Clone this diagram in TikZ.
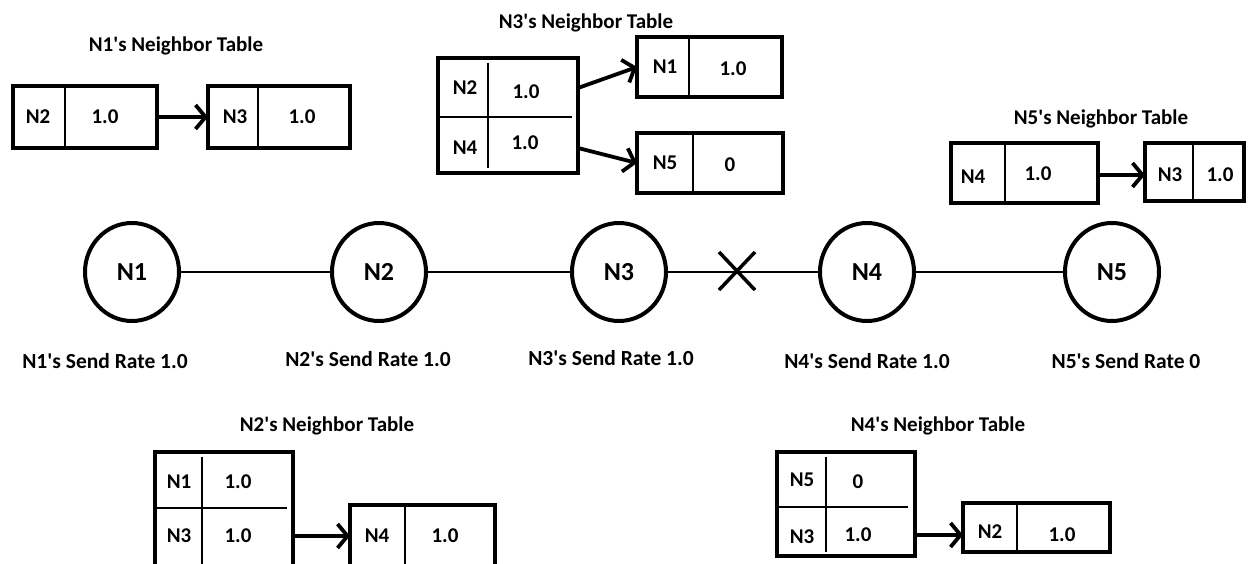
\documentclass[tikz,border=0pt]{standalone}
\usepackage{fontspec}
\setmainfont{Carlito}
\usetikzlibrary{arrows.meta,shapes.geometric}
\newcommand{\apos}{\textquotesingle}
\begin{document}
\begin{tikzpicture}[x=1pt,y=-1pt,
  box/.style={draw, line width=3.5pt, rectangle, inner sep=0pt, outer sep=0pt},
  div/.style={line width=1.8pt},
  tx/.style={font=\fontsize{21}{25}\selectfont\bfseries, text height=13.5pt, text depth=0pt, inner sep=0pt},
  ttl/.style={font=\fontsize{21}{25}\selectfont\bfseries, text height=13.5pt, text depth=0pt, inner sep=0pt},
  rate/.style={font=\fontsize{21.5}{25}\selectfont\bfseries, text height=13.8pt, text depth=0pt, inner sep=0pt},
  nd/.style={draw, ellipse, line width=4pt, minimum width=94pt, minimum height=98pt, inner sep=0pt, outer sep=0pt, font=\fontsize{26}{30}\selectfont\bfseries},
  link/.style={line width=2pt},
  xmark/.style={line width=3.5pt},
  arr/.style={line width=3.8pt, -{Straight Barb[length=10pt,width=24pt]}},
]
\fill[white] (0,0) rectangle (1251,564);
\useasboundingbox (0,0) rectangle (1251,564);

% ---------- N1's table ----------
\node[ttl] (ttl1) at (176,45) {N1\apos s Neighbor Table};
\node[box, minimum width=144pt, minimum height=62pt] (t1a) at (85,117) {};
\draw[div] (65,86) -- (65,148);
\node[tx] (t1a1) at (38,117) {N2};
\node[tx] (t1a2) at (105,117) {1.0};
\node[box, minimum width=142pt, minimum height=62pt] (t1b) at (279,117) {};
\draw[div] (258,86) -- (258,148);
\node[tx] (t1b1) at (235,117) {N3};
\node[tx] (t1b2) at (302,117) {1.0};
\draw[arr] (t1a) -- (t1b);

% ---------- N3's table ----------
\node[ttl] (ttl3) at (586,22) {N3\apos s Neighbor Table};
\node[box, minimum width=140pt, minimum height=115pt] (t3) at (508,115.5) {};
\draw[div] (438,117) -- (572,117);
\draw[div] (488,63) -- (488,168);
\node[tx] (t3r1) at (465,88) {N2};
\node[tx] (t3v1) at (526,92) {1.0};
\node[tx] (t3r2) at (465,148) {N4};
\node[tx] (t3v2) at (525,143) {1.0};
\node[box, minimum width=145pt, minimum height=60pt] (t3n1) at (709.5,67) {};
\draw[div] (689,37) -- (689,97);
\node[tx] (t3n1a) at (665,67) {N1};
\node[tx] (t3n1b) at (733,69) {1.0};
\node[box, minimum width=146pt, minimum height=60pt] (t3n5) at (710,163) {};
\draw[div] (693,133) -- (693,193);
\node[tx] (t3n5a) at (665,163) {N5};
\node[tx] (t3n5b) at (730,165) {0};
\draw[arr] (t3.east |- t3r1) -- (t3n1.west);
\draw[arr] (t3.east |- t3r2) -- (t3n5.west);

% ---------- N5's table ----------
\node[ttl] (ttl5) at (1101,118) {N5\apos s Neighbor Table};
\node[box, minimum width=147pt, minimum height=60pt] (t5a) at (1024.5,173) {};
\draw[div] (1005,143) -- (1005,203);
\node[tx] (t5a1) at (973,177) {N4};
\node[tx] (t5a2) at (1038,174) {1.0};
\node[box, minimum width=99pt, minimum height=58pt] (t5b) at (1194.5,172) {};
\draw[div] (1193,143) -- (1193,201);
\node[tx] (t5b1) at (1170,175) {N3};
\node[tx] (t5b2) at (1220,175) {1.0};
\draw[arr] (t5a.east |- t5b1) -- (t5b.west |- t5b1);

% ---------- nodes ----------
\node[nd] (n1) at (132,272) {N1};
\node[nd] (n2) at (379,272) {N2};
\node[nd] (n3) at (619,272) {N3};
\node[nd] (n4) at (867,272) {N4};
\node[nd] (n5) at (1112,272) {N5};
\draw[link] (n1) -- (n2);
\draw[link] (n2) -- (n3);
\draw[link] (n3) -- (n4);
\draw[link] (n4) -- (n5);
\coordinate (cut) at (737,271);
\draw[xmark] ([shift={(-18,-19)}]cut) -- ([shift={(18,19)}]cut);
\draw[xmark] ([shift={(-18,19)}]cut) -- ([shift={(18,-19)}]cut);

% ---------- send rates ----------
\node[rate] (s1) at (105,362) {N1\apos s Send Rate 1.0};
\node[rate] (s2) at (368,360) {N2\apos s Send Rate 1.0};
\node[rate] (s3) at (611,359) {N3\apos s Send Rate 1.0};
\node[rate] (s4) at (867,362) {N4\apos s Send Rate 1.0};
\node[rate] (s5) at (1126,362) {N5\apos s Send Rate 0};

% ---------- N2's table ----------
\node[ttl] (ttl2) at (327,425) {N2\apos s Neighbor Table};
\node[box, minimum width=138pt, minimum height=118pt] (t2) at (224,511) {};
\draw[div] (155,508) -- (287,508);
\draw[div] (202,457) -- (202,570);
\node[tx] (t2r1) at (179,482) {N1};
\node[tx] (t2v1) at (238,482) {1.0};
\node[tx] (t2r2) at (179,536) {N3};
\node[tx] (t2v2) at (238,536) {1.0};
\node[box, minimum width=145pt, minimum height=65pt] (t2b) at (422.5,537.5) {};
\draw[div] (405,505) -- (405,570);
\node[tx] (t2b1) at (377,536) {N4};
\node[tx] (t2b2) at (445,536) {1.0};
\draw[arr] (t2.east |- t2r2) -- (t2b.west |- t2r2);

% ---------- N4's table ----------
\node[ttl] (ttl4) at (938,425) {N4\apos s Neighbor Table};
\node[box, minimum width=138pt, minimum height=104pt] (t4) at (846,504) {};
\draw[div] (777,507) -- (908,507);
\draw[div] (826,457) -- (826,552);
\node[tx] (t4r1) at (802,480) {N5};
\node[tx] (t4v1) at (858,482) {0};
\node[tx] (t4r2) at (802,537) {N3};
\node[tx] (t4v2) at (858,535) {1.0};
\node[box, minimum width=147pt, minimum height=49pt] (t4b) at (1036.5,527.5) {};
\draw[div] (1017,503) -- (1017,552);
\node[tx] (t4b1) at (990,532) {N2};
\node[tx] (t4b2) at (1062,535) {1.0};
\draw[arr] (t4.east |- t4v2) -- (t4b.west |- t4v2);
\end{tikzpicture}
\end{document}
